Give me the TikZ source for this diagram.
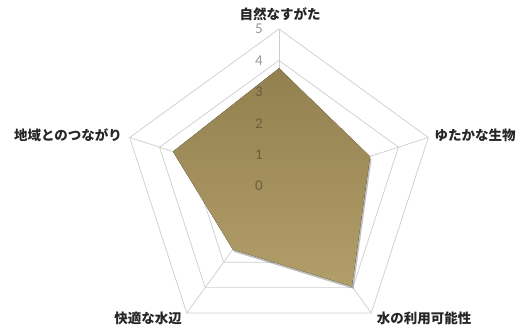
\documentclass[tikz,border=0pt]{standalone}
\usepackage{fontspec}
\newfontfamily\jp{Noto Sans CJK JP}
\newfontfamily\numf{Carlito}
\usetikzlibrary{shadows}
\definecolor{gridc}{RGB}{205,205,205}
\definecolor{filltop}{RGB}{146,128,80}
\definecolor{fillbot}{RGB}{178,158,104}
\definecolor{tickin}{RGB}{110,95,58}
\begin{document}
\begin{tikzpicture}[x=1pt,y=1pt,
  gridline/.style={draw=gridc, line width=0.7pt},
  axlab/.style={font=\jp\bfseries\fontsize{13.5}{14}\selectfont, text=black!85, inner sep=0pt},
  ticklab/.style={font=\numf\fontsize{15}{15}\selectfont, text=black!40, inner sep=0pt},
  ticklabin/.style={ticklab, text=tickin},
  datafill/.style={top color=filltop, bottom color=fillbot, draw=none,
    drop shadow={shadow xshift=1.5pt, shadow yshift=-2.5pt, opacity=0.25, fill=black}}]
\useasboundingbox (0,0) rectangle (531,331);
\begin{scope}[shift={(279,145)}]
  \coordinate (O) at (0,0);
  % grid pentagons
  \foreach \l in {1,...,5}{
    \draw[gridline] (90:{\l*31.4}) -- (18:{\l*31.4}) -- (-54:{\l*31.4}) -- (-126:{\l*31.4}) -- (162:{\l*31.4}) -- cycle;
  }
  % spokes
  \foreach \a/\n in {90/t,18/r,-54/br,-126/bl,162/l}{
    \coordinate (v\n) at (\a:157);
    \draw[gridline] (O) -- (v\n);
  }
  % tick labels outside data
  \node[ticklab] (k5) at (-20,157) {5};
  \node[ticklab] (k4) at (-20,125.6) {4};
  % data polygon
  \coordinate (dt) at (90:{3.75*31.4});
  \coordinate (dr) at (18:{3.05*31.4});
  \coordinate (dbr) at (-54:{3.95*31.4});
  \coordinate (dbl) at (-126:{2.5*31.4});
  \coordinate (dl) at (162:{3.55*31.4});
  \fill[datafill] (dt) -- (dr) -- (dbr) -- (dbl) -- (dl) -- cycle;
  % tick labels inside data
  \node[ticklabin] (k3) at (-20,94.2) {3};
  \node[ticklabin] (k2) at (-20,62.8) {2};
  \node[ticklabin] (k1) at (-20,31.4) {1};
  \node[ticklabin] (k0) at (-20,0) {0};
  % axis labels
  \node[axlab] (a1) at (1,172) {自然なすがた};
  \node[axlab] (a2) at (196,51) {ゆたかな生物};
  \node[axlab] (a3) at (145,-132) {水の利用可能性};
  \node[axlab] (a4) at (-131,-132) {快適な水辺};
  \node[axlab] (a5) at (-211,51) {地域とのつながり};
\end{scope}
\end{tikzpicture}
\end{document}
